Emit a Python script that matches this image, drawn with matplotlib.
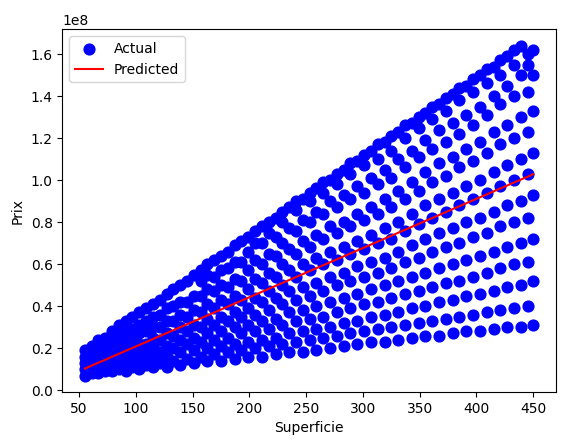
import matplotlib
matplotlib.use("Agg")
import matplotlib.pyplot as plt
import numpy as np

# scatter data, per column: (superficie, prices in millions)
columns = [
    (55, [7, 10, 13, 16, 19]),
    (61, [8, 12, 15, 18, 21]),
    (67, [8, 11, 14, 17, 20, 24]),
    (73, [9, 13, 16, 20, 25]),
    (79, [9, 12, 15, 19, 23, 28]),
    (85, [10, 14, 18, 22, 26, 31]),
    (91, [9, 13, 17, 21, 25, 29, 33]),
    (97, [11, 15, 19, 24, 29, 35]),
    (103, [10, 14, 18, 22, 27, 31, 37]),
    (109, [12, 17, 22, 28, 33, 39]),
    (115, [11, 15, 20, 25, 30, 35, 41]),
    (121, [13, 18, 24, 30, 36, 43]),
    (127, [11, 16, 21, 27, 33, 39, 46]),
    (133, [14, 20, 26, 33, 40, 48]),
    (139, [12, 18, 24, 30, 36, 42, 50]),
    (145, [15, 22, 28, 35, 42, 52]),
    (151, [13, 19, 25, 31, 38, 45, 55]),
    (157, [16, 23, 30, 37, 45, 52, 57]),
    (163, [14, 20, 27, 34, 41, 48, 55, 60]),
    (169, [17, 24, 31, 39, 47, 54, 62]),
    (175, [14, 21, 28, 35, 43, 50, 57, 64]),
    (181, [18, 25, 33, 41, 49, 58, 66]),
    (187, [15, 22, 30, 37, 45, 53, 61, 69]),
    (193, [19, 27, 35, 43, 52, 61, 71]),
    (199, [16, 23, 31, 39, 48, 57, 66, 73]),
    (205, [20, 28, 36, 44, 53, 62, 70, 76]),
    (211, [16, 24, 33, 42, 51, 60, 70, 78]),
    (217, [21, 29, 38, 47, 56, 65, 75, 80]),
    (223, [17, 25, 34, 44, 54, 64, 73, 82]),
    (229, [22, 31, 41, 50, 60, 70, 80, 85]),
    (235, [18, 27, 37, 47, 57, 67, 77, 87]),
    (241, [23, 33, 43, 54, 65, 76, 86, 90]),
    (247, [18, 28, 38, 49, 60, 71, 81, 91]),
    (253, [24, 34, 45, 57, 68, 80, 90, 94]),
    (259, [19, 29, 40, 51, 63, 74, 85, 96]),
    (265, [25, 35, 47, 60, 72, 84, 94, 99]),
    (271, [20, 30, 42, 54, 66, 78, 90, 100]),
    (277, [26, 37, 50, 62, 75, 87, 98, 103]),
    (283, [21, 32, 44, 56, 68, 80, 93, 105]),
    (289, [27, 39, 52, 65, 78, 91, 103, 108]),
    (295, [22, 33, 46, 59, 71, 84, 97, 109]),
    (301, [28, 41, 54, 67, 81, 94, 107, 112]),
    (307, [23, 35, 48, 61, 74, 87, 101, 114]),
    (313, [29, 42, 56, 70, 84, 98, 110, 117]),
    (319, [23, 36, 50, 63, 77, 91, 105, 118]),
    (325, [30, 44, 58, 72, 87, 101, 114, 121]),
    (331, [24, 37, 52, 66, 80, 95, 110, 123]),
    (337, [31, 46, 61, 76, 91, 106, 120, 126]),
    (343, [25, 39, 54, 69, 84, 99, 114, 127]),
    (349, [32, 47, 63, 79, 95, 111, 125, 130]),
    (355, [26, 40, 56, 72, 88, 104, 119, 132]),
    (361, [33, 49, 66, 82, 99, 115, 129, 135]),
    (367, [26, 42, 58, 75, 91, 108, 124, 136]),
    (373, [34, 51, 68, 85, 102, 118, 133, 139]),
    (379, [27, 43, 60, 77, 94, 111, 127, 141]),
    (385, [35, 52, 70, 88, 106, 122, 138, 144]),
    (391, [28, 45, 62, 80, 97, 115, 131, 145]),
    (397, [36, 54, 73, 91, 109, 126, 142, 148]),
    (403, [28, 46, 64, 82, 100, 118, 135, 150]),
    (409, [37, 56, 75, 94, 113, 131, 146, 153]),
    (415, [29, 47, 66, 85, 104, 123, 140, 154]),
    (421, [38, 58, 78, 97, 117, 136, 150, 157]),
    (427, [30, 49, 68, 88, 107, 126, 145, 159]),
    (433, [39, 60, 80, 100, 120, 140, 155, 162]),
    (439, [30, 50, 70, 90, 110, 130, 150, 164]),
    (445, [40, 61, 82, 103, 123, 142, 155, 160]),
    (450, [31, 52, 72, 93, 113, 133, 150, 162]),
]
pred_x = [55, 450]
pred_y = [10.3e6, 102.8e6]

xs = [x for x, ys in columns for _ in ys]
ys = [y * 1e6 for _, col in columns for y in col]

fig, ax = plt.subplots(figsize=(5.67, 4.48), dpi=100)
ax.scatter(xs, ys, color='blue', s=60, label='Actual')
ax.plot(pred_x, pred_y, color='red', label='Predicted')
ax.set_xlabel('Superficie')
ax.set_ylabel('Prix')
ax.set_xticks([50, 100, 150, 200, 250, 300, 350, 400, 450])
ax.set_yticks([0, 0.2e8, 0.4e8, 0.6e8, 0.8e8, 1.0e8, 1.2e8, 1.4e8, 1.6e8])
ax.legend(loc='upper left')
fig.subplots_adjust(left=0.11, right=0.98, top=0.935, bottom=0.125)
fig.savefig('out.png')
